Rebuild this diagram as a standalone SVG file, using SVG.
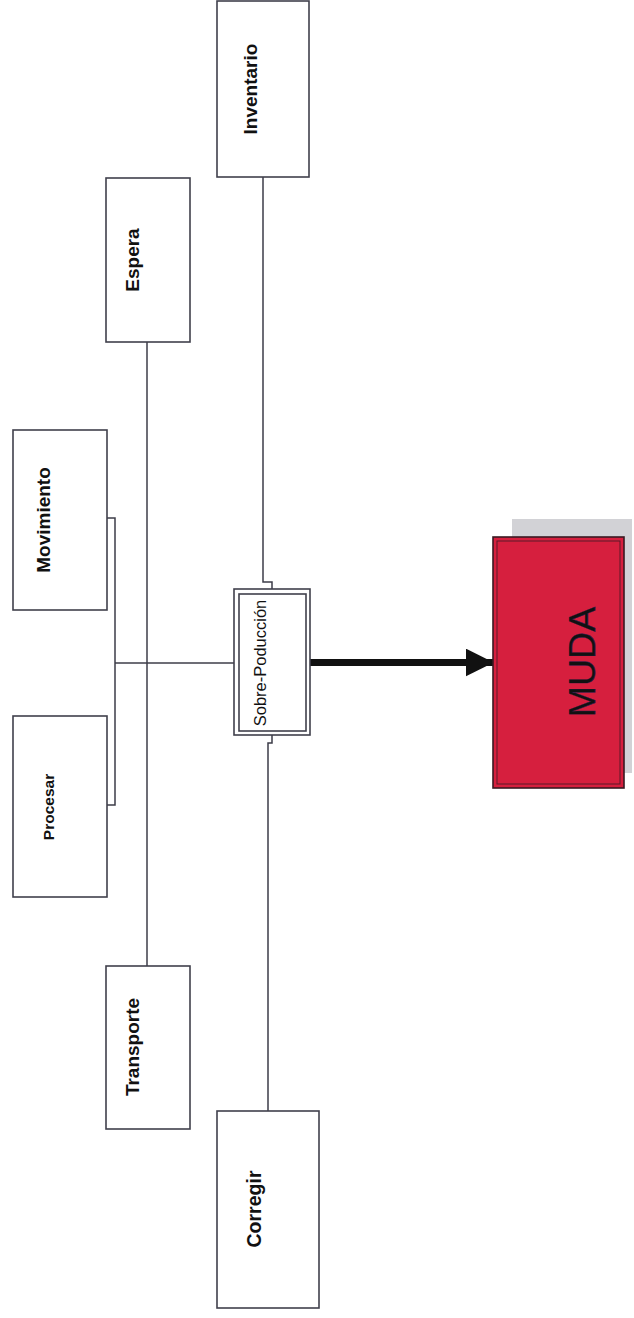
<svg xmlns="http://www.w3.org/2000/svg" width="634" height="1318" viewBox="0 0 634 1318">
  <style>
    .box { fill: #ffffff; stroke: #40404c; stroke-width: 1.6; }
    .wire { fill: none; stroke: #3c3c48; stroke-width: 1.5; }
    .lbl { font-family: "Liberation Sans", Arial, sans-serif; fill: #111111; text-anchor: middle; }
    .b { font-weight: bold; }
  </style>
  <defs>
    <marker id="head" markerWidth="4" markerHeight="4" refX="3.9" refY="2" orient="auto" markerUnits="strokeWidth">
      <path d="M0,0 L4,2 L0,4 Z" fill="#111111"/>
    </marker>
  </defs>

  <rect width="634" height="1318" fill="#ffffff"/>

  <!-- connectors -->
  <g id="connectors">
    <!-- Inventario to Sobre-Poducción, with a small jog -->
    <path class="wire" d="M263,177 V582 H272 V589"/>
    <!-- Sobre-Poducción to Corregir, with a small jog -->
    <path class="wire" d="M272,735 V743 H268 V1111"/>
    <!-- Espera down to Transporte -->
    <path class="wire" d="M147,342 V966"/>
    <!-- Movimiento / Procesar bracket -->
    <path class="wire" d="M107,518 H115 V805 H107"/>
    <!-- main horizontal into Sobre-Poducción -->
    <path class="wire" d="M115,663 H234"/>
    <!-- heavy arrow to MUDA -->
    <line x1="310" y1="662.5" x2="493" y2="662.5" stroke="#111111" stroke-width="7" marker-end="url(#head)"/>
  </g>

  <g id="inventario">
    <rect class="box" x="217" y="1" width="92" height="176"/>
    <text class="lbl b" font-size="19" transform="translate(257,89) rotate(-90)">Inventario</text>
  </g>

  <g id="espera">
    <rect class="box" x="106" y="178" width="84" height="164"/>
    <text class="lbl b" font-size="19" transform="translate(139,260) rotate(-90)">Espera</text>
  </g>

  <g id="movimiento">
    <rect class="box" x="13" y="430" width="94" height="180"/>
    <text class="lbl b" font-size="19" transform="translate(50,520) rotate(-90)">Movimiento</text>
  </g>

  <g id="procesar">
    <rect class="box" x="13" y="716" width="94" height="181"/>
    <text class="lbl b" font-size="15.5" transform="translate(54,807) rotate(-90)">Procesar</text>
  </g>

  <g id="transporte">
    <rect class="box" x="106" y="966" width="84" height="163"/>
    <text class="lbl b" font-size="19" transform="translate(139,1047) rotate(-90)">Transporte</text>
  </g>

  <g id="corregir">
    <rect class="box" x="217" y="1111" width="102" height="197"/>
    <text class="lbl b" font-size="19.5" transform="translate(261,1209) rotate(-90)">Corregir</text>
  </g>

  <g id="sobre-produccion">
    <rect class="box" x="234" y="589" width="76" height="146"/>
    <rect class="box" x="239" y="594" width="67" height="137" fill="none"/>
    <text class="lbl" font-size="16.5" transform="translate(266,663) rotate(-90)">Sobre-Poducción</text>
  </g>

  <g id="muda">
    <rect x="512" y="519" width="120" height="254" fill="#d2d2d6"/>
    <rect x="493" y="537" width="131" height="251" fill="#d61f3e" stroke="#3a1a22" stroke-width="1.6"/>
    <rect x="497" y="541" width="123" height="243" fill="none" stroke="#5a1a28" stroke-width="1"/>
    <text class="lbl" font-size="37.5" fill="#1a1420" stroke="#2a2050" stroke-width="0.4" transform="translate(595,662) rotate(-90)">MUDA</text>
  </g>
</svg>
